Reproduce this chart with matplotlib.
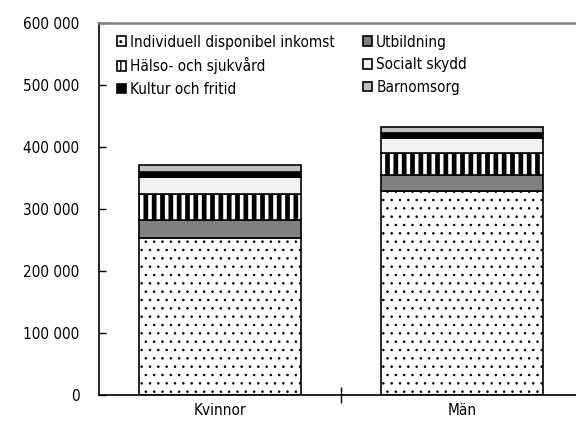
import numpy as np
import matplotlib
matplotlib.use("Agg")
import matplotlib.pyplot as plt
from matplotlib.ticker import FuncFormatter, FixedLocator

plt.rcParams['font.family'] = ['Liberation Sans Narrow', 'DejaVu Sans']
plt.rcParams['font.stretch'] = 'condensed'

groups = ["Kvinnor", "Män"]

# stacking order, bottom to top
components = ["Individuell disponibel inkomst", "Utbildning", "Hälso- och sjukvård",
              "Socialt skydd", "Kultur och fritid", "Barnomsorg"]
individuell = [254000, 329000]
utbildning = [28000, 25800]
halso = [41400, 35000]
socialt = [28400, 24200]
kultur = [8000, 8100]
barnomsorg = [10800, 9700]

values = [individuell, utbildning, halso, socialt, kultur, barnomsorg]
colors = ["white", "#808080", "white", "#f2f2f2", "black", "#bfbfbf"]
hatches = ["..", None, "||", None, None, None]
hatch_lw = [0.6, 1.0, 3.4, 1.0, 1.0, 1.0]

fig = plt.figure(figsize=(5.76, 4.24), dpi=100)
ax = fig.add_axes([99 / 576, 29 / 424, 484 / 576, 372 / 424])

x = np.arange(len(groups))
bottom = np.zeros(len(groups))
handles = []
for vals, name, col, h, hlw in zip(values, components, colors, hatches, hatch_lw):
    plt.rcParams['hatch.linewidth'] = hlw
    bars = ax.bar(x, vals, 0.67, bottom=bottom, color=col, edgecolor="black",
                  linewidth=1.2, hatch=h, label=name)
    for b in bars:
        if hasattr(b, "set_hatch_linewidth"):
            b.set_hatch_linewidth(hlw)
    handles.append(bars)
    bottom += np.array(vals)
plt.rcParams['hatch.linewidth'] = 1.0

ax.set_xlim(-0.5, 1.5)
ax.set_ylim(0, 600000)
ax.yaxis.set_major_locator(FixedLocator(np.arange(0, 600001, 100000)))
ax.yaxis.set_major_formatter(FuncFormatter(lambda v, p: f"{int(v):,}".replace(",", " ")))
ax.tick_params(axis="y", direction="in", length=5, width=1, pad=14, labelsize=11)

ax.set_xticks(x)
ax.set_xticklabels(groups)
ax.tick_params(axis="x", length=0, pad=6, labelsize=11)
ax.set_xticks([0.5], minor=True)
ax.tick_params(axis="x", which="minor", direction="inout", length=12, width=1)

ax.spines["right"].set_visible(False)
ax.spines["top"].set_color("#808080")
ax.spines["top"].set_linewidth(1.8)
ax.spines["left"].set_linewidth(1.2)
ax.spines["bottom"].set_linewidth(1.2)

order = [0, 2, 4, 1, 3, 5]
leg = ax.legend([handles[i] for i in order], [components[i] for i in order],
                ncol=2, loc="upper left", bbox_to_anchor=(0.025, 0.985), frameon=False,
                fontsize=11, handlelength=0.6, handleheight=0.6, handletextpad=0.25,
                columnspacing=1.85, labelspacing=0.5, borderaxespad=0)

fig.savefig("out.png", dpi=100)
